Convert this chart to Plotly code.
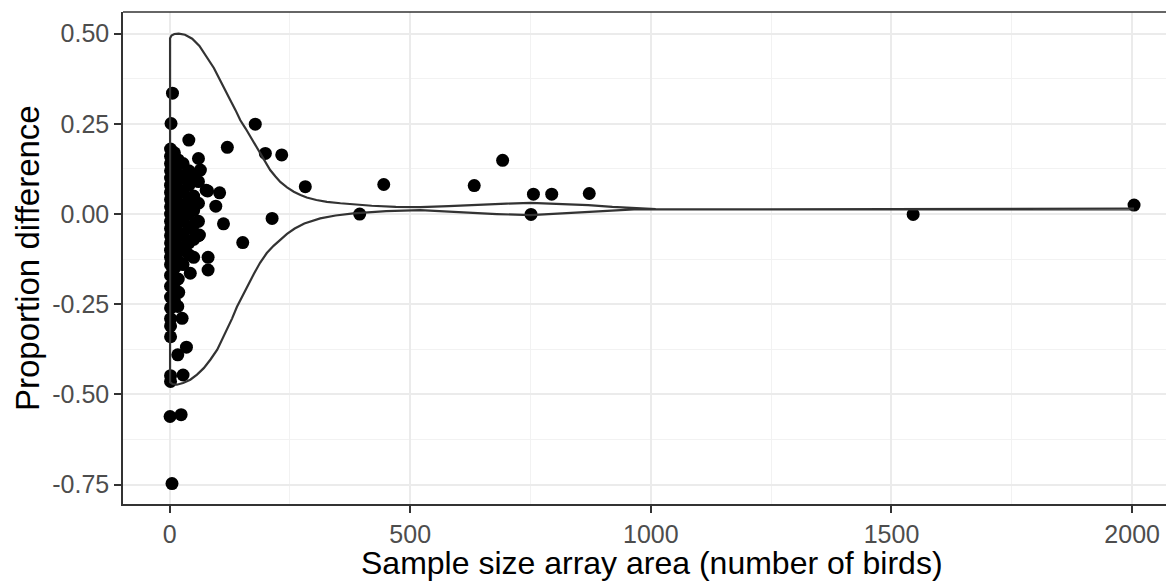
import plotly.graph_objects as go

# ---- data: scatter points (sample size, proportion difference) ----
pts_x = [6, 3, 178, 40, 120, 199, 233, 282, 445, 395, 213, 112, 152, 104, 96,
         692, 633, 756, 794, 872, 751, 1545, 2004,
         5, 1, 24, 2, 2, 28, 17, 35, 2, 2, 26, 17, 19, 80, 80, 43, 40, 62, 60, 64, 76, 79,
         2, 2, 2, 2, 2, 2, 2, 2, 2, 2, 2, 2, 2, 2, 2, 2, 2, 2, 2, 2, 2, 2,
         10, 10, 10, 10, 10, 10, 10, 10, 10, 10, 10,
         18, 18, 18, 18, 18, 18, 18, 18, 18,
         28, 28, 28, 28, 28, 28, 28, 28,
         40, 40, 40, 40, 40, 40,
         50, 50, 50, 50, 50, 50,
         60, 60, 60, 60]
pts_y = [0.335, 0.251, 0.249, 0.205, 0.185, 0.168, 0.164, 0.076, 0.082, 0.0, -0.012, -0.027, -0.079, 0.059, 0.022,
         0.149, 0.079, 0.055, 0.055, 0.057, -0.001, -0.001, 0.025,
         -0.747, -0.561, -0.556, -0.464, -0.448, -0.446, -0.39, -0.369, -0.34, -0.31, -0.289, -0.256, -0.217,
         -0.12, -0.155, -0.164, -0.113, -0.058, 0.154, 0.122, 0.066, 0.064,
         0.18, 0.16, 0.14, 0.12, 0.10, 0.08, 0.06, 0.04, 0.02, 0.0, -0.02, -0.04, -0.06, -0.08, -0.10,
         -0.12, -0.14, -0.17, -0.20, -0.23, -0.26, -0.29,
         0.17, 0.13, 0.09, 0.05, 0.01, -0.03, -0.07, -0.11, -0.15, -0.19, -0.24,
         0.15, 0.11, 0.07, 0.03, -0.01, -0.05, -0.09, -0.13, -0.18,
         0.14, 0.10, 0.06, 0.02, -0.02, -0.06, -0.10, -0.14,
         0.12, 0.08, 0.04, 0.0, -0.04, -0.08,
         0.10, 0.05, 0.01, -0.03, -0.07, -0.12,
         0.09, 0.03, -0.02, -0.06]

# ---- data: envelope curves ----
upper_x = [1, 4, 10, 19, 32, 47, 62, 78, 92, 105, 116, 126, 137, 147, 158, 168, 178, 188, 199, 209,
           220, 230, 244, 258, 272, 285, 305, 327, 355, 382, 420, 470, 521, 580, 640, 700, 750,
           810, 870, 920, 965, 1010, 1200, 1600, 2004]
upper_y = [0.487, 0.495, 0.499, 0.500, 0.497, 0.486, 0.466, 0.435, 0.405, 0.371, 0.344, 0.316, 0.288,
           0.260, 0.237, 0.214, 0.191, 0.168, 0.144, 0.122, 0.104, 0.089, 0.074, 0.062, 0.053, 0.046,
           0.039, 0.034, 0.030, 0.027, 0.023, 0.020, 0.019, 0.022, 0.026, 0.029, 0.031,
           0.029, 0.025, 0.020, 0.016, 0.014, 0.013, 0.013, 0.015]
lower_x = [1, 6, 15, 28, 43, 57, 71, 85, 99, 109, 119, 130, 140, 150, 161, 175, 188, 202, 216, 230,
           244, 260, 280, 313, 345, 382, 450, 521, 600, 680, 750, 830, 900, 965, 1200, 1600, 2004]
lower_y = [-0.466, -0.471, -0.473, -0.468, -0.459, -0.445, -0.427, -0.403, -0.376, -0.350, -0.321,
           -0.289, -0.257, -0.229, -0.201, -0.166, -0.135, -0.108, -0.088, -0.072, -0.055, -0.040,
           -0.026, -0.012, -0.004, 0.002, 0.008, 0.011, 0.005, 0.0, -0.003, 0.002, 0.008, 0.013,
           0.013, 0.013, 0.013]

x_ticks = [0, 500, 1000, 1500, 2000]
x_tick_labels = ["0", "500", "1000", "1500", "2000"]
y_ticks = [0.5, 0.25, 0.0, -0.25, -0.5, -0.75]
y_tick_labels = ["0.50", "0.25", "0.00", "-0.25", "-0.50", "-0.75"]

x_title = "Sample size array area (number of birds)"
y_title = "Proportion difference"

curve_x = lower_x[::-1] + upper_x
curve_y = lower_y[::-1] + upper_y

fig = go.Figure()
fig.add_trace(go.Scatter(x=pts_x, y=pts_y, mode="markers",
                         marker=dict(color="black", size=13, line=dict(width=0)),
                         showlegend=False, hoverinfo="skip"))
fig.add_trace(go.Scatter(x=curve_x, y=curve_y, mode="lines",
                         line=dict(color="#333333", width=2.2),
                         showlegend=False, hoverinfo="skip"))

font_fam = "Liberation Sans, Arial, sans-serif"
W, H = 1166, 575
L, R, T, B = 115, 0, 4, 79
fig.update_layout(
    width=W, height=H,
    margin=dict(l=L, r=R, t=T, b=B),
    paper_bgcolor="white", plot_bgcolor="white",
    font=dict(family=font_fam),
    xaxis=dict(range=[-96.8, 2087], tickvals=x_ticks, ticktext=x_tick_labels,
               showgrid=True, gridcolor="#EBEBEB", gridwidth=1.5,
               minor=dict(showgrid=True, gridcolor="#F2F2F2", gridwidth=0.8, dtick=250, tick0=0),
               zeroline=False, showline=True, mirror=False, linecolor="#333333", linewidth=1.5,
               ticks="outside", ticklen=7, tickwidth=2, tickcolor="#333333",
               tickfont=dict(size=25, color="#4D4D4D")),
    yaxis=dict(range=[-0.8035, 0.56], tickvals=y_ticks, ticktext=y_tick_labels,
               showgrid=True, gridcolor="#EBEBEB", gridwidth=1.5,
               minor=dict(showgrid=True, gridcolor="#F2F2F2", gridwidth=0.8, dtick=0.125, tick0=0),
               zeroline=False, showline=True, mirror=False, linecolor="#333333", linewidth=1.5,
               ticks="outside", ticklen=7, tickwidth=2, tickcolor="#333333",
               tickfont=dict(size=25, color="#4D4D4D")),
    shapes=[dict(type="line", xref="paper", yref="paper", x0=0, x1=1, y0=1, y1=1,
                 line=dict(color="#333333", width=1.5))],
    annotations=[
        dict(text=x_title, xref="paper", yref="paper", x=0.5033, y=-0.12,
             xanchor="center", yanchor="middle", showarrow=False,
             font=dict(size=32, color="black")),
        dict(text=y_title, xref="paper", yref="paper", x=-0.0913, y=0.5,
             xanchor="center", yanchor="middle", showarrow=False, textangle=-90,
             font=dict(size=33, color="black")),
    ],
)

fig.write_html("out.html")
